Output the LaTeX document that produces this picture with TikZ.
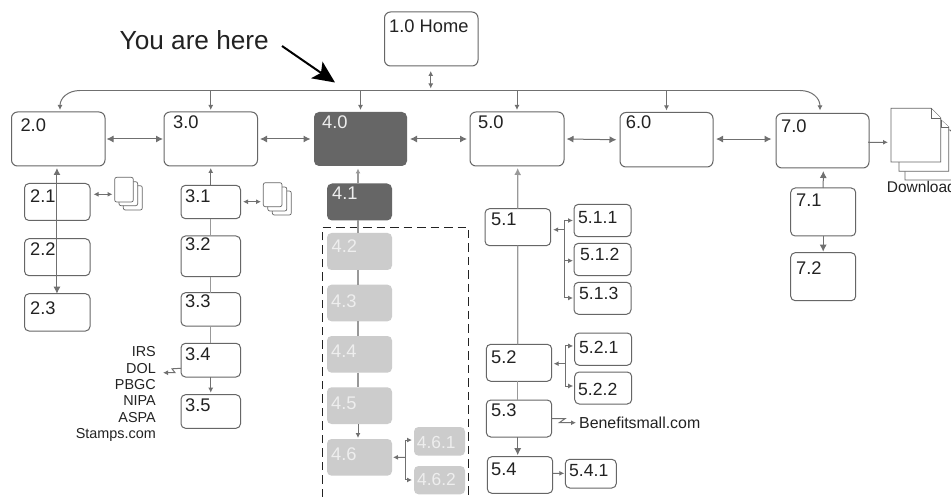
\documentclass[tikz,border=0pt]{standalone}
\usepackage{fontspec}
\setmainfont{Liberation Sans}
\usetikzlibrary{arrows.meta,calc}
\definecolor{ln}{HTML}{666666}
\definecolor{cn}{HTML}{707070}
\definecolor{mid}{HTML}{999999}
\definecolor{lite}{HTML}{CCCCCC}
\definecolor{ink}{HTML}{222222}
\definecolor{pale}{HTML}{EEEEEE}
\tikzset{
  bigbox/.style={draw=ln,line width=1pt,fill=white,rounded corners=6pt,inner sep=0pt,outer sep=0pt},
  smallbox/.style={draw=ln,line width=1pt,fill=white,rounded corners=4.5pt,inner sep=0pt,outer sep=0pt},
  darkbox/.style={fill=ln,rounded corners=5pt,inner sep=0pt,outer sep=0pt},
  litebox/.style={fill=lite,rounded corners=4.5pt,inner sep=0pt,outer sep=0pt},
  lbl/.style={anchor=base west,inner sep=0pt,text=ink,font=\fontsize{18.3}{18}\selectfont},
  lbld/.style={lbl,text=pale},
  lblm/.style={lbl,font=\fontsize{17.6}{18}\selectfont},
  lbll/.style={lbl,text=pale,font=\fontsize{17.4}{18}\selectfont},
  small/.style={anchor=base east,inner sep=0pt,text=ink,font=\fontsize{14.4}{15}\selectfont},
  conn/.style={draw=cn,line width=1pt},
  gline/.style={draw=mid,line width=1.3pt},
  tipa/.style={conn,{Latex[length=5pt,width=5pt]}-{Latex[length=5pt,width=5pt]}},
  tipb/.style={conn,{Latex[length=7pt,width=7pt]}-{Latex[length=7pt,width=7pt]}},
  tipto/.style={conn,-{Latex[length=5pt,width=5pt]}},
  tipbig/.style={conn,-{Latex[length=7pt,width=7pt]}},
  doc/.style={draw=ln,line width=0.7pt,fill=white,rounded corners=2pt},
  page/.style={draw=ln,line width=0.8pt,fill=white}
}
% style, name, x1,y1,x2,y2, label style, lx,ly; text in \bxtext
\newcommand{\bx}[9]{%
  \pgfmathsetmacro{\bxw}{#5-#3}\pgfmathsetmacro{\bxh}{#6-#4}%
  \pgfmathsetmacro{\bxx}{(#5+#3)/2}\pgfmathsetmacro{\bxy}{(#6+#4)/2}%
  \node[#1,minimum width=\bxw pt,minimum height=\bxh pt] (#2) at (\bxx,\bxy) {};
  \node[#7] (#2t) at (#8,#9) {\bxtext};
}
\begin{document}
\begin{tikzpicture}[x=1pt,y=-1pt]
\useasboundingbox (0,0) rectangle (951,497);
\fill[white] (0,0) rectangle (951,497);
% dashed frame
\draw[draw=ink,line width=0.9pt,dash pattern=on 8.5pt off 5pt] (322,497) -- (322,227.5) -- (468.7,227.5) -- (468.7,497);
% boxes
\def\bxtext{1.0 Home}\bx{bigbox}{n10}{384.5}{12}{478}{66}{lbl}{389}{33}
\def\bxtext{2.0}\bx{bigbox}{n20}{11.5}{112}{105}{166}{lbl}{20.3}{132}
\def\bxtext{3.0}\bx{bigbox}{n30}{164}{112}{257.5}{166}{lbl}{173}{129}
\def\bxtext{4.0}\bx{darkbox}{n40}{314}{112}{407}{166}{lbld}{322}{129}
\def\bxtext{5.0}\bx{bigbox}{n50}{470}{112}{564}{166}{lbl}{478}{129}
\def\bxtext{6.0}\bx{bigbox}{n60}{620}{112.5}{713}{167}{lbl}{625.7}{129}
\def\bxtext{7.0}\bx{bigbox}{n70}{776}{113.5}{869}{168}{lbl}{781}{133}
\def\bxtext{2.1}\bx{smallbox}{n21}{24.5}{183.5}{90}{220.5}{lbl}{30}{202.7}
\def\bxtext{2.2}\bx{smallbox}{n22}{24.5}{238.7}{90}{275.7}{lbl}{30}{256}
\def\bxtext{2.3}\bx{smallbox}{n23}{24.5}{293.7}{90}{331}{lbl}{30}{314.7}
\def\bxtext{3.1}\bx{smallbox}{n31}{181}{185.3}{240.5}{218.7}{lbl}{185}{202.7}
\def\bxtext{3.2}\bx{smallbox}{n32}{181}{236}{240.5}{276.7}{lbl}{185}{250.7}
\def\bxtext{3.3}\bx{smallbox}{n33}{181}{292.7}{240.5}{326}{lbl}{185}{308}
\def\bxtext{3.4}\bx{smallbox}{n34}{181}{343.3}{240.5}{377}{lbl}{185}{360}
\def\bxtext{3.5}\bx{smallbox}{n35}{181}{394.7}{240.5}{428.3}{lbl}{185}{411.7}
\def\bxtext{4.1}\bx{darkbox}{n41}{327}{183.5}{392}{220.5}{lbld}{332}{200}
\def\bxtext{4.2}\bx{litebox}{n42}{327}{233}{392}{270}{lbld}{331.5}{253}
\def\bxtext{4.3}\bx{litebox}{n43}{327}{284.7}{392}{321.3}{lbld}{331}{308}
\def\bxtext{4.4}\bx{litebox}{n44}{327}{336}{392}{372.7}{lbld}{331}{357.7}
\def\bxtext{4.5}\bx{litebox}{n45}{327}{387.3}{392}{424}{lbld}{331}{409}
\def\bxtext{4.6}\bx{litebox}{n46}{327}{439}{392}{475.7}{lbld}{331}{460}
\def\bxtext{4.6.1}\bx{litebox}{n461}{414}{427}{465}{455.7}{lbll}{416.7}{448.3}
\def\bxtext{4.6.2}\bx{litebox}{n462}{414}{466}{465}{494.3}{lbll}{417}{485.7}
\def\bxtext{5.1}\bx{smallbox}{n51}{485}{208.7}{550.7}{245.7}{lbl}{491}{225.7}
\def\bxtext{5.1.1}\bx{smallbox}{n511}{574}{204.3}{631}{236.7}{lblm}{578}{224}
\def\bxtext{5.1.2}\bx{smallbox}{n512}{574}{243.3}{631}{275.7}{lblm}{580}{261}
\def\bxtext{5.1.3}\bx{smallbox}{n513}{574}{282.3}{631}{314.3}{lblm}{579}{300}
\def\bxtext{5.2}\bx{smallbox}{n52}{486.3}{344.3}{551.7}{381.3}{lbl}{491}{363}
\def\bxtext{5.2.1}\bx{smallbox}{n521}{574.7}{333}{631.7}{365.3}{lblm}{579}{353}
\def\bxtext{5.2.2}\bx{smallbox}{n522}{574.7}{372}{631.7}{404}{lblm}{578}{395}
\def\bxtext{5.3}\bx{smallbox}{n53}{486.3}{400}{551.7}{437}{lbl}{491}{416}
\def\bxtext{5.4}\bx{smallbox}{n54}{487.3}{456.7}{552.7}{493.3}{lbl}{491}{475}
\def\bxtext{5.4.1}\bx{smallbox}{n541}{565.3}{459.3}{616.3}{488}{lblm}{569}{476}
\def\bxtext{7.1}\bx{smallbox}{n71}{790.7}{188}{855.7}{236}{lbl}{796}{206.7}
\def\bxtext{7.2}\bx{smallbox}{n72}{790.7}{252.7}{855.7}{300.7}{lbl}{796}{275}
% heading
\node[anchor=base west,inner sep=0pt,text=ink,font=\fontsize{26.2}{26}\selectfont] (here) at (119.5,50) {You are here};
\coordinate (heretip) at (335,82.5);
\draw[black,line width=2pt,-{Stealth[length=22pt,width=20pt,inset=5pt]}] (282,46) -- (heretip);
% bus
\coordinate (busl) at (80,90.5);
\coordinate (busr) at (800,90.5);
\draw[conn,-{Latex[length=5pt,width=5pt]}] (busl) .. controls (68,90.5) and (60,98) .. (60,110);
\draw[conn] (busl) -- (busr);
\draw[conn,-{Latex[length=5pt,width=5pt]}] (busr) .. controls (812,90.5) and (820,98) .. (820,110.5);
\draw[tipto] (n30.north |- busl) -- ($(n30.north)+(0,-2)$);
\draw[tipto] (n40.north |- busl) -- ($(n40.north)+(0,-2)$);
\draw[tipto] (n50.north |- busl) -- ($(n50.north)+(0,-2)$);
\draw[tipto] (n60.north |- busl) -- ($(n60.north)+(0,-2)$);
\draw[tipa] ($(n10.south)+(-0.5,5)$) -- ($(n10.south)+(-0.5,22.5)$);
% horizontal
\draw[tipb] ($(n20.east)+(1.5,0)$) -- ($(n30.west)+(-1,0)$);
\draw[tipb] ($(n30.east)+(2.5,0)$) -- ($(n40.west)+(-3.5,0)$);
\draw[tipb] ($(n40.east)+(3,0)$) -- ($(n50.west)+(-3,0)$);
\draw[tipb] ($(n50.east)+(2.5,0)$) -- ($(n60.west)+(-3.5,0)$);
\draw[tipb] ($(n60.east)+(3,-.7)$) -- ($(n70.west)+(-4.5,-1.7)$);
% column 2
\draw[tipb] ($(n20.south)+(-1.3,2)$) -- ($(n23.north)+(-0.3,0)$);
% doc icon 1
\draw[doc] (123.3,185.7) rectangle (142.3,210);
\draw[doc] (119,181.7) rectangle (137.7,205.7);
\draw[doc] (114.7,177.3) rectangle (133.3,202);
\coordinate (icona) at (112.5,194.3);
\draw[tipa] ($(n21.east)+(3.5,-7.7)$) -- (icona);
% doc icon 2
\draw[doc] (272.3,191) rectangle (291.3,215);
\draw[doc] (267.8,187) rectangle (286.8,211);
\draw[doc] (263.3,182.7) rectangle (282,206.7);
\coordinate (iconb) at (261,201.7);
\draw[tipa] ($(n31.east)+(2.5,-0.3)$) -- (iconb);
% column 3
\draw[tipto] (n31.north) -- ($(n30.south)+(0,2)$);
\draw[gline] (n31.south) -- (n32.north);
\draw[gline] (n32.south) -- (n33.north);
\draw[gline] (n33.south) -- (n34.north);
\draw[tipto] (n34.south) -- ($(n35.north)+(0,-2)$);
\coordinate (extern) at (163,372.7);
\draw[tipto] (n34.west |- 0,368.3) -- (172,368.8) -- (175,372.7) -- (extern);
\node[small] (t1) at (156,356.7) {IRS};
\node[small] (t2) at (156,373.3) {DOL};
\node[small] (t3) at (156,389) {PBGC};
\node[small] (t4) at (156,405.7) {NIPA};
\node[small] (t5) at (156,422) {ASPA};
\node[small] (t6) at (156,438.3) {Stamps.com};
% column 4
\draw[gline,-{Latex[length=5pt,width=5pt]}] ($(n41.north)+(-1.5,0)$) -- ($(n40.south)+(-2.5,2.5)$);
\draw[gline] ($(n41.south)+(-1.5,0)$) -- ($(n42.north)+(-1.5,0)$);
\draw[gline] ($(n42.south)+(-1.5,0)$) -- ($(n43.north)+(-1.5,0)$);
\draw[gline] ($(n43.south)+(-1.5,0)$) -- ($(n44.north)+(-1.5,0)$);
\draw[gline] ($(n44.south)+(-1.5,0)$) -- ($(n45.north)+(-1.5,0)$);
\draw[tipto] ($(n45.south)+(-1.5,0)$) -- ($(n46.north)+(-1.5,-1)$);
\coordinate (br46) at (405,457.3);
\draw[tipto] (br46) -- ($(n46.east)+(1,0)$);
\draw[tipto] (br46) |- ($(n461.west)+(-2,-1.3)$);
\draw[tipto] (br46) |- ($(n462.west)+(-2,-0.2)$);
% column 5
\draw[gline,-{Latex[length=7pt,width=7pt]}] ($(n51.north)+(-0.2,0)$) -- ($(n50.south)+(0.7,2)$);
\draw[gline] ($(n51.south)+(-0.2,0)$) -- ($(n52.north)+(-1.3,0)$);
\draw[gline] ($(n52.south)+(-1.3,0)$) -- ($(n53.north)+(-1.3,0)$);
\draw[tipbig] ($(n53.south)+(-1.3,0)$) -- ($(n54.north)+(-2.3,-1.5)$);
\coordinate (br51) at (564.7,229.7);
\draw[tipto] (br51) -- ($(n51.east |- br51)+(2.5,0)$);
\draw[tipto] (br51) |- ($(n511.west)+(-1,0)$);
\draw[tipto] (br51) |- ($(n512.west)+(-1,1.2)$);
\draw[tipto] (br51) |- ($(n513.west)+(-1,-0.3)$);
\coordinate (br52) at (565.3,363.7);
\draw[tipto] (br52) -- ($(n52.east |- br52)+(2,0)$);
\draw[tipto] (br52) |- ($(n521.west)+(-1.5,-3.2)$);
\draw[tipto] (br52) |- ($(n522.west)+(-1.5,-2)$);
\node[anchor=base west,inner sep=0pt,text=ink,font=\fontsize{15.9}{16}\selectfont] (bsm) at (579,428.7) {Benefitsmall.com};
\draw[tipto] (n53.east |- 0,418.7) -- (565,418.7) -- (559.3,422.7) -- ($(bsm.west |- 0,422.7)+(-3,0)$);
\draw[tipto] ($(n54.east)+(0,-1.7)$) -- ($(n541.west)+(-1,-0.3)$);
% downloads
\coordinate (dlo) at (891,108.3);
\draw[page] (905,130) -- (950,130) -- (957,137) -- (957,180) -- (905,180) -- cycle;
\draw[page] (899,120) -- (941,120) -- (948.7,127) -- (948.7,171.3) -- (899,171.3) -- cycle;
\draw[page] (dlo) -- (931,108.3) -- (940.7,118) -- (940.7,162) -- (891,162) -- cycle;
\draw[page] (931,108.3) -- (931,118) -- (940.7,118);
\draw[page] (941,120) -- (941,127) -- (948.7,127);
\node[anchor=base west,inner sep=0pt,text=ink,font=\fontsize{15.5}{16}\selectfont] (dl) at (886.7,192.7) {Download};
\draw[tipto] ($(n70.east)+(-1,1.5)$) -- (888,142.3);
\draw[tipbig] (n71.north) -- ($(n70.south)+(0.8,3)$);
\draw[tipbig] (n71.south) -- ($(n72.north)+(0,-1)$);
\end{tikzpicture}
\end{document}
